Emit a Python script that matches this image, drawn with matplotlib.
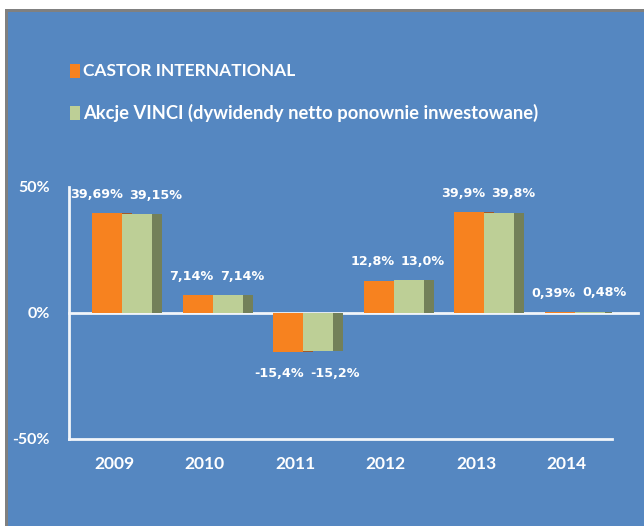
import matplotlib.pyplot as plt
from matplotlib.patches import Rectangle

years = ['2009', '2010', '2011', '2012', '2013', '2014']
castor = [39.69, 7.14, -15.4, 12.8, 39.9, 0.39]
vinci = [39.15, 7.14, -15.2, 13.0, 39.8, 0.48]
castor_labels = ['39,69%', '7,14%', '-15,4%', '12,8%', '39,9%', '0,39%']
vinci_labels = ['39,15%', '7,14%', '-15,2%', '13,0%', '39,8%', '0,48%']
yticks = [-50, 0, 50]
ytick_labels = ['-50%', '0%', '50%']

blue = '#5587c1'
orange = '#f7821f'
green = '#bdcf96'
shade = '#738059'
brown = '#a0582a'
white = '#f2f5fa'

W, H = 644, 526
fig = plt.figure(figsize=(W / 100, H / 100), dpi=100, facecolor='white')

# panel background (gray frame on top/left, blue fill)
fig.patches.append(Rectangle((5 / W, 0), 1, (H - 9) / H, transform=fig.transFigure,
                             facecolor='#808080', edgecolor='none', zorder=-2))
fig.patches.append(Rectangle((8 / W, 0), 1, (H - 12) / H, transform=fig.transFigure,
                             facecolor=blue, edgecolor='none', zorder=-1))

ax = fig.add_axes([69 / W, (H - 439) / H, (612 - 69) / W, (439 - 187) / H])
ax.set_facecolor('none')
ax.set_xlim(-0.5, 5.5)
ax.set_ylim(-50, 50)

x = range(len(years))
bw = 0.331
ax.bar([i - 0.243 + bw for i in x], castor, width=0.11, align='edge', color=brown, zorder=2)
ax.bar([i - 0.243 for i in x], castor, width=bw, align='edge', color=orange, zorder=3)
ax.bar([i + 0.088 + bw for i in x], vinci, width=0.11, align='edge', color=shade, zorder=2)
ax.bar([i + 0.088 for i in x], vinci, width=bw, align='edge', color=green, zorder=4)

def label_y(v):
    return v + 7.5 if v >= 0 else v - 8.8

for i in x:
    ax.text(i + 0.088 + 0.01, label_y(castor[i]), castor_labels[i], ha='right', va='center',
            color='white', fontsize=9.2, fontweight='bold', family='DejaVu Sans', zorder=5)
    ax.text(i + 0.088 + 0.08, label_y(vinci[i]), vinci_labels[i], ha='left', va='center',
            color='white', fontsize=9.2, fontweight='bold', family='DejaVu Sans', zorder=5)

# zero line runs a bit past the axis
ax.plot([-0.5, 5.79], [0, 0], color=white, lw=2, clip_on=False, zorder=1)

for s in ['top', 'right']:
    ax.spines[s].set_visible(False)
for s in ['left', 'bottom']:
    ax.spines[s].set_color(white)
    ax.spines[s].set_linewidth(2)

ax.set_xticks(list(x))
ax.set_xticklabels(years, fontsize=12.5, fontweight='bold', color='white', family='Lato')
ax.set_yticks(yticks)
ax.set_yticklabels(ytick_labels, fontsize=11.5, fontweight='bold', color='white', family='Lato')
ax.tick_params(length=0)
ax.tick_params(axis='x', pad=12)
ax.tick_params(axis='y', pad=14)

# legend
fig.patches.append(Rectangle((70 / W, 1 - 78 / H), 10 / W, 14 / H, transform=fig.transFigure,
                             facecolor=orange, edgecolor='none'))
fig.patches.append(Rectangle((70 / W, 1 - 120 / H), 10 / W, 14 / H, transform=fig.transFigure,
                             facecolor=green, edgecolor='none'))
fig.text(83 / W, 1 - 71 / H, 'CASTOR INTERNATIONAL', fontsize=12.5, fontweight='bold',
         color='white', family='Lato', va='center')
fig.text(83 / W, 1 - 113 / H, 'Akcje VINCI (dywidendy netto ponownie inwestowane)', fontsize=13.2,
         fontweight='bold', color='white', family='Lato', va='center')

fig.savefig('out.png', dpi=100, facecolor='white')
